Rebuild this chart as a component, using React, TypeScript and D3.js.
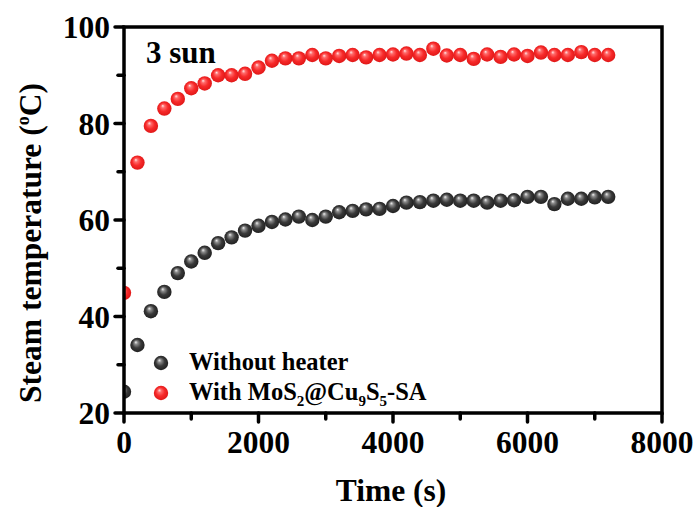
import React from "react";
import * as d3 from "d3";

const times = [0, 200, 400, 600, 800, 1000, 1200, 1400, 1600, 1800, 2000, 2200, 2400, 2600, 2800, 3000, 3200, 3400, 3600, 3800, 4000, 4200, 4400, 4600, 4800, 5000, 5200, 5400, 5600, 5800, 6000, 6200, 6400, 6600, 6800, 7000, 7200];
const withoutHeater = [24.4, 34.1, 41.1, 45.1, 49.0, 51.4, 53.2, 55.2, 56.4, 57.8, 58.8, 59.6, 60.1, 60.7, 60.0, 60.7, 61.6, 61.9, 62.2, 62.3, 62.9, 63.6, 63.7, 64.0, 64.2, 64.0, 64.0, 63.6, 64.0, 64.1, 64.8, 64.8, 63.3, 64.4, 64.4, 64.7, 64.8];
const withHeater = [44.9, 71.9, 79.5, 83.1, 85.1, 87.3, 88.3, 90.0, 90.0, 90.3, 91.6, 93.0, 93.5, 93.5, 94.2, 93.5, 94.0, 94.2, 93.7, 94.2, 94.3, 94.5, 94.2, 95.5, 94.1, 94.2, 93.4, 94.3, 93.8, 94.3, 94.0, 94.7, 94.2, 94.2, 94.8, 94.2, 94.2];
const xTicks = [0, 2000, 4000, 6000, 8000];
const xMinor = [1000, 3000, 5000, 7000];
const yTicks = [20, 40, 60, 80, 100];
const yMinor = [30, 50, 70, 90];

const FONT = "'Liberation Serif', 'Times New Roman', serif";

export default function App() {
  const x = d3.scaleLinear().domain([0, 8000]).range([124, 662]);
  const y = d3.scaleLinear().domain([20, 100]).range([413, 27]);
  const R = 7.2;
  const series = [
    { vals: withoutHeater, grad: "gBlack" },
    { vals: withHeater, grad: "gRed" },
  ];
  return (
    <svg width={695} height={507} style={{ position: "absolute", left: 0, top: 0, background: "#fff" }} fontFamily={FONT}>
      <defs>
        <radialGradient id="gBlack" cx="50%" cy="50%" r="55%" fx="38%" fy="30%">
          <stop offset="0%" stopColor="#f2f2f2" />
          <stop offset="22%" stopColor="#8a8a8a" />
          <stop offset="55%" stopColor="#3a3a3a" />
          <stop offset="100%" stopColor="#1c1c1c" />
        </radialGradient>
        <radialGradient id="gRed" cx="50%" cy="50%" r="55%" fx="38%" fy="30%">
          <stop offset="0%" stopColor="#ffe8e8" />
          <stop offset="22%" stopColor="#ff6a6a" />
          <stop offset="55%" stopColor="#f72a2a" />
          <stop offset="100%" stopColor="#dc1414" />
        </radialGradient>
        <clipPath id="plotClip">
          <rect x={124} y={27} width={538} height={386} />
        </clipPath>
      </defs>

      <g clipPath="url(#plotClip)">
        {series.map((s, si) => (
          <g key={si}>
            {s.vals.map((v, i) => (
              <circle key={i} cx={x(times[i])} cy={y(v)} r={R} fill={`url(#${s.grad})`} />
            ))}
          </g>
        ))}
      </g>

      {/* frame */}
      <rect x={124} y={27} width={538} height={386} fill="none" stroke="#000" strokeWidth={3.5} />

      {/* y ticks */}
      {yTicks.map((t) => (
        <g key={"y" + t}>
          <line x1={115} x2={124} y1={y(t)} y2={y(t)} stroke="#000" strokeWidth={3.5} strokeLinecap="round" />
          <text x={110} y={y(t)} dy="0.35em" textAnchor="end" fontSize={31.5} fontWeight="bold">{t}</text>
        </g>
      ))}
      {yMinor.map((t) => (
        <line key={"ym" + t} x1={118} x2={124} y1={y(t)} y2={y(t)} stroke="#000" strokeWidth={3.5} strokeLinecap="round" />
      ))}

      {/* x ticks */}
      {xTicks.map((t) => (
        <g key={"x" + t}>
          <line x1={x(t)} x2={x(t)} y1={413} y2={422} stroke="#000" strokeWidth={3.5} strokeLinecap="round" />
          <text x={x(t)} y={453} textAnchor="middle" fontSize={31.5} fontWeight="bold">{t}</text>
        </g>
      ))}
      {xMinor.map((t) => (
        <line key={"xm" + t} x1={x(t)} x2={x(t)} y1={413} y2={419} stroke="#000" strokeWidth={3.5} strokeLinecap="round" />
      ))}

      {/* axis titles */}
      <text x={391} y={501} textAnchor="middle" fontSize={31.5} fontWeight="bold">Time (s)</text>
      <text transform="translate(41,243) rotate(-90)" textAnchor="middle" fontSize={31.5} fontWeight="bold">
        Steam temperature (<tspan fontSize={18} dy={-12}>o</tspan><tspan dy={12}>C)</tspan>
      </text>

      <text x={146} y={63} fontSize={31} fontWeight="bold">3 sun</text>

      {/* legend */}
      <circle cx={161} cy={363} r={R} fill="url(#gBlack)" />
      <text x={189} y={370} fontSize={24.5} fontWeight="bold">Without heater</text>
      <circle cx={161} cy={393} r={R} fill="url(#gRed)" />
      <text x={189} y={400} fontSize={24.5} fontWeight="bold">
        With MoS<tspan fontSize={15} dy={6}>2</tspan><tspan dy={-6}>@Cu</tspan><tspan fontSize={15} dy={6}>9</tspan><tspan dy={-6}>S</tspan><tspan fontSize={15} dy={6}>5</tspan><tspan dy={-6}>-SA</tspan>
      </text>
    </svg>
  );
}
